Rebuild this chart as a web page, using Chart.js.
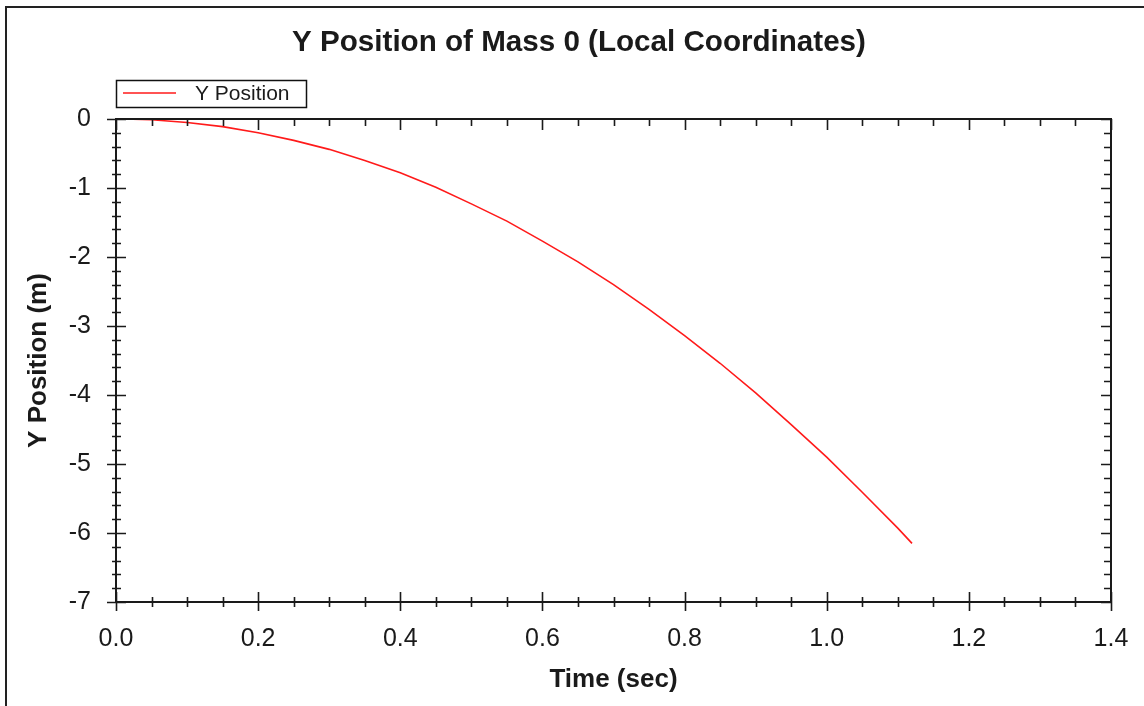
<!DOCTYPE html>
<html>
<head>
<meta charset="utf-8">
<script src="https://cdn.jsdelivr.net/npm/chart.js@4/dist/chart.umd.min.js"></script>
<style>
  html, body { margin: 0; padding: 0; background: #fff; }
  #wrap { width: 1144px; height: 706px; position: relative; }
</style>
</head>
<body>
<div id="wrap"><canvas id="c" width="1144" height="706"></canvas></div>
<script>
// ---- data ----
const chartTitle = 'Y Position of Mass 0 (Local Coordinates)';
const seriesLabel = 'Y Position';
const timeValues = [0.01, 0.05, 0.10, 0.15, 0.20, 0.25, 0.30, 0.35, 0.40, 0.45, 0.50, 0.55, 0.60, 0.65, 0.70, 0.75, 0.80, 0.85, 0.90, 0.95, 1.00, 1.05, 1.10, 1.12];
const yPositions = [0.00, -0.01, -0.05, -0.11, -0.20, -0.31, -0.44, -0.60, -0.78, -0.99, -1.23, -1.48, -1.77, -2.07, -2.40, -2.76, -3.14, -3.54, -3.97, -4.43, -4.90, -5.41, -5.93, -6.15];
const xAxisTitle = 'Time (sec)';
const yAxisTitle = 'Y Position (m)';
const xRange = [0, 1.4], xMajor = 0.2, xMinor = 0.05;
const yRange = [-7, 0], yMajor = 1, yMinor = 0.2;

const FONT = "Arial, 'Liberation Sans', Helvetica, sans-serif";
const INK = '#1a1a1a';

const points = timeValues.map((t, i) => ({ x: t, y: yPositions[i] }));

const decorPlugin = {
  id: 'decor',
  beforeDraw(chart) {
    const ctx = chart.ctx;
    ctx.save();
    ctx.fillStyle = '#fff';
    ctx.fillRect(0, 0, chart.width, chart.height);
    // outer frame (left + top)
    ctx.strokeStyle = '#222';
    ctx.lineWidth = 2;
    ctx.beginPath();
    ctx.moveTo(6, 706);
    ctx.lineTo(6, 7);
    ctx.lineTo(1144, 7);
    ctx.stroke();
    // title
    ctx.fillStyle = INK;
    ctx.font = "bold 29.6px " + FONT;
    ctx.textAlign = 'center';
    ctx.textBaseline = 'middle';
    ctx.fillText(chartTitle, 579, 43);
    // legend box
    const ds = chart.data.datasets[0];
    ctx.lineWidth = 1.5;
    ctx.strokeStyle = '#111';
    ctx.strokeRect(116.5, 80.5, 190, 27);
    ctx.strokeStyle = ds.borderColor;
    ctx.lineWidth = 1.5;
    ctx.beginPath();
    ctx.moveTo(123, 93);
    ctx.lineTo(176, 93);
    ctx.stroke();
    ctx.fillStyle = INK;
    ctx.font = "21px " + FONT;
    ctx.textAlign = 'left';
    ctx.fillText(ds.label, 195, 94);
    ctx.restore();
  },
  afterDraw(chart) {
    const ctx = chart.ctx;
    const a = chart.chartArea;
    const xs = chart.scales.x, ys = chart.scales.y;
    ctx.save();
    ctx.strokeStyle = INK;
    ctx.lineWidth = 2;
    ctx.strokeRect(a.left, a.top, a.right - a.left, a.bottom - a.top);
    ctx.lineWidth = 1.6;
    ctx.beginPath();
    // x ticks
    const nx = Math.round((xRange[1] - xRange[0]) / xMinor);
    for (let i = 0; i <= nx; i++) {
      const v = xRange[0] + i * xMinor;
      const px = Math.round(xs.getPixelForValue(v)) + 0.5;
      const major = i % Math.round(xMajor / xMinor) === 0;
      // bottom
      ctx.moveTo(px, a.bottom + (major ? 9 : 5));
      ctx.lineTo(px, a.bottom - (major ? 10 : 5));
      // top
      ctx.moveTo(px, a.top);
      ctx.lineTo(px, a.top + (major ? 11 : 7));
    }
    const ny = Math.round((yRange[1] - yRange[0]) / yMinor);
    for (let i = 0; i <= ny; i++) {
      const v = yRange[0] + i * yMinor;
      const py = Math.round(ys.getPixelForValue(v)) + 0.5;
      const major = i % Math.round(yMajor / yMinor) === 0;
      // left
      ctx.moveTo(a.left - (major ? 9 : 4), py);
      ctx.lineTo(a.left + (major ? 10 : 5), py);
      // right
      ctx.moveTo(a.right, py);
      ctx.lineTo(a.right - (major ? 10 : 7), py);
    }
    ctx.stroke();
    ctx.restore();
  }
};

new Chart(document.getElementById('c'), {
  type: 'line',
  data: {
    datasets: [{
      label: seriesLabel,
      data: points,
      borderColor: '#ff1a1a',
      borderWidth: 1.6,
      pointRadius: 0,
      tension: 0,
      fill: false,
      clip: 4
    }]
  },
  options: {
    responsive: false,
    animation: false,
    devicePixelRatio: 1,
    layout: { padding: { left: 0, right: 33, top: 119, bottom: 0 } },
    plugins: { legend: { display: false }, title: { display: false }, tooltip: { enabled: false } },
    scales: {
      x: {
        type: 'linear',
        min: xRange[0], max: xRange[1],
        afterFit(s) { s.height = 104; s.paddingLeft = 0; s.paddingRight = 0; },
        ticks: {
          stepSize: xMajor,
          color: INK,
          font: { family: FONT, size: 25 },
          padding: 22,
          maxRotation: 0,
          callback: v => Number(v).toFixed(1)
        },
        grid: { display: true, drawOnChartArea: false, drawTicks: false },
        border: { display: false },
        title: { display: true, text: xAxisTitle, color: INK, font: { family: FONT, size: 26, weight: 'bold' }, padding: { top: 0, bottom: 11 } }
      },
      y: {
        type: 'linear',
        min: yRange[0], max: yRange[1],
        afterFit(s) { s.width = 116; s.paddingTop = 0; s.paddingBottom = 0; },
        ticks: {
          stepSize: yMajor,
          color: INK,
          font: { family: FONT, size: 25 },
          padding: 25,
          callback: v => String(v)
        },
        grid: { display: true, drawOnChartArea: false, drawTicks: false },
        border: { display: false },
        title: { display: true, text: yAxisTitle, color: INK, font: { family: FONT, size: 26, weight: 'bold' }, padding: { top: 23, bottom: 0 } }
      }
    }
  },
  plugins: [decorPlugin]
});
</script>
</body>
</html>
